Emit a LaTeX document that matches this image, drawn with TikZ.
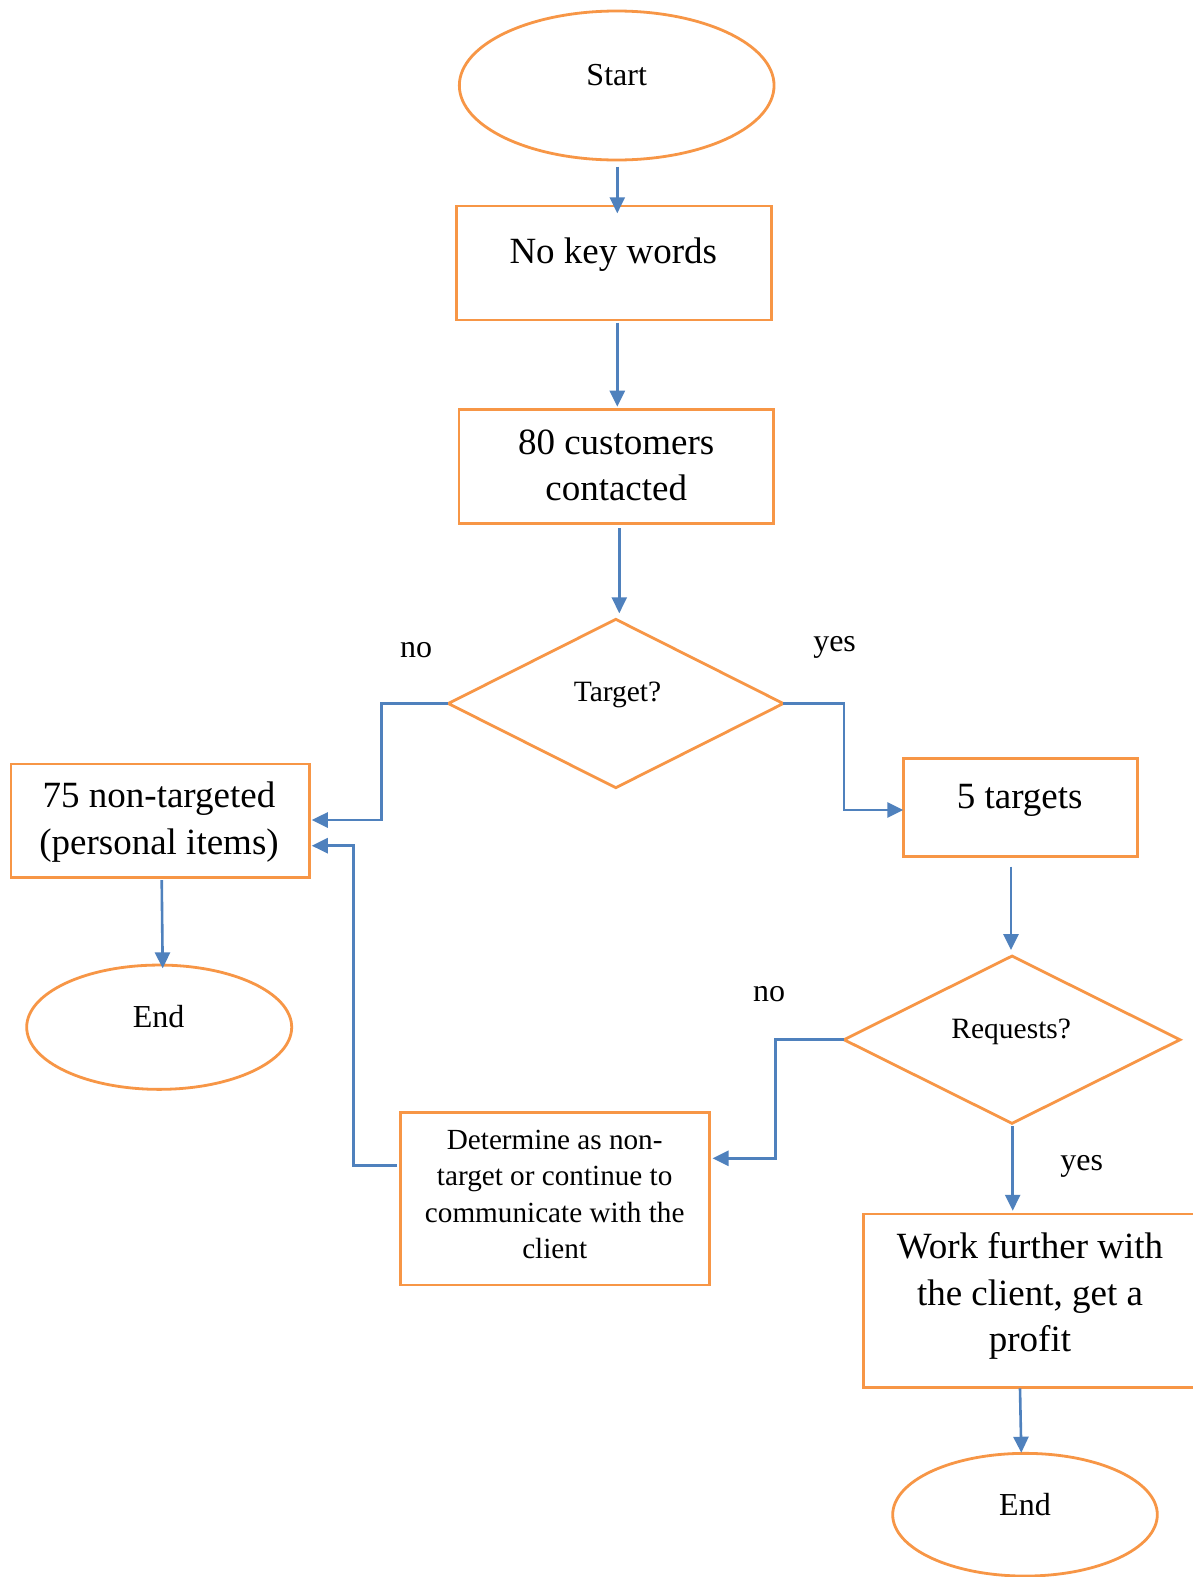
\documentclass[tikz,border=0pt]{standalone}
\usepackage{fontspec}
\setmainfont{Liberation Serif}
\usetikzlibrary{shapes.geometric,arrows.meta,calc}
\definecolor{ofOrange}{HTML}{F79646}
\definecolor{ofBlue}{HTML}{4F81BD}
\begin{document}
\begin{tikzpicture}[x=1pt,y=-1pt,
  shapeline/.style={draw=ofOrange, line width=2.8pt, inner sep=0pt, outer sep=0pt},
  procbox/.style={shapeline, rectangle},
  termov/.style={shapeline, ellipse},
  decide/.style={shapeline, diamond},
  bigtxt/.style={font=\fontsize{37}{46.5}\selectfont, align=center, anchor=base, inner sep=0pt},
  smalltxt/.style={font=\fontsize{29.2}{36.2}\selectfont, align=center, anchor=base, inner sep=0pt},
  termtxt/.style={font=\fontsize{32}{38}\selectfont, anchor=base, inner sep=0pt},
  asktxt/.style={font=\fontsize{29.5}{36}\selectfont, anchor=base, inner sep=0pt},
  anstxt/.style={font=\fontsize{32}{38}\selectfont, anchor=base, inner sep=0pt},
  flow/.style={draw=ofBlue, line width=2.6pt, -{Triangle[length=16pt,width=15pt]}},
]
\useasboundingbox (0,0) rectangle (1192,1577);
\fill[white] (0,0) rectangle (1192,1577);

% shapes (multi-line texts are placed by the baseline of their last line)
\node[termov, minimum width=314.7pt, minimum height=149pt] (st) at (616.7,85.5) {};
\node[termtxt] (stT) at (st.center) {Start};

\node[procbox, minimum width=315pt, minimum height=114pt] (nkw) at (614.2,263) {};
\node[bigtxt] (nkwT) at ($(nkw.center)+(-0.9,0.3)$) {No key words};

\node[procbox, minimum width=314.3pt, minimum height=114pt] (cc) at (616.2,466.3) {};
\node[bigtxt] (ccT) at ($(cc.center)+(0,34.4)$) {80 customers\\contacted};

\node[decide, minimum width=335pt, minimum height=168.4pt] (tg) at (615.8,703.5) {};
\node[asktxt] (tgT) at ($(tg.center)+(1.7,-1.8)$) {Target?};

\node[procbox, minimum width=234pt, minimum height=98.4pt] (tt) at (1020.3,807.5) {};
\node[bigtxt] (ttT) at ($(tt.center)+(-0.6,0.8)$) {5 targets};

\node[procbox, minimum width=298.3pt, minimum height=113.7pt] (nt) at (160.2,820.9) {};
\node[bigtxt] (ntT) at ($(nt.center)+(-1.2,33.2)$) {75 non-targeted\\(personal items)};

\node[termov, minimum width=265pt, minimum height=124.3pt] (en1) at (159.2,1027.2) {};
\node[termtxt] (en1T) at ($(en1.center)+(-0.5,0.1)$) {End};

\node[decide, minimum width=336pt, minimum height=167.3pt] (rq) at (1012,1039.7) {};
\node[asktxt] (rqT) at ($(rq.center)+(-0.8,-1.4)$) {Requests?};

\node[procbox, minimum width=308.6pt, minimum height=172.3pt] (dt) at (555,1198.9) {};
\node[smalltxt] (dtT) at ($(dt.center)+(-0.3,59.4)$) {Determine as non-\\target or continue to\\communicate with the\\client};

\node[procbox, minimum width=333.4pt, minimum height=173.3pt] (wf) at (1030,1300.7) {};
\node[bigtxt] (wfT) at ($(wf.center)+(0,51)$) {Work further with\\the client, get a\\profit};

\node[termov, minimum width=264.6pt, minimum height=122.7pt] (en2) at (1025,1514.7) {};
\node[termtxt] (en2T) at ($(en2.center)+(0,0.3)$) {End};

% branch labels
\node[anstxt] (no1) at (416,657.3) {no};
\node[anstxt] (yes1) at (834.6,651.7) {yes};
\node[anstxt] (no2) at (769.2,1001.7) {no};
\node[anstxt] (yes2) at (1081.7,1170) {yes};

% connectors
\draw[flow] ($(st.south)+(0.6,6.7)$) -- ($(nkw.north)+(3.1,7.3)$);
\draw[flow] ($(nkw.south)+(3.1,2.7)$) -- ($(cc.north)+(1.1,-2.6)$);
\draw[flow] ($(cc.south)+(3.1,5)$) -- ($(tg.north)+(3.5,-6)$);
\draw[flow, shorten >=2.4pt] (tg.west) -- ++(-66.8,0) |- ([yshift=0.9pt]nt.east);
\draw[flow] (tg.east) -- ++(60.7,0) |- ([yshift=-2.5pt]tt.west);
\draw[flow] ($(tt.south)+(-9.3,10)$) -- ($(rq.north)+(-1,-6)$);
\draw[flow, shorten >=3.3pt] (rq.west) -- ++(-68.3,0) |- ([yshift=40.6pt]dt.east);
\draw[flow] ($(rq.south)+(0.7,2.7)$) -- ($(wf.north)+(-17.3,-3.3)$);
\draw[flow] ($(wf.south)+(-10,1)$) -- ($(en2.north)+(-3.7,-0.6)$);
\draw[flow] ($(nt.south)+(1.5,2.3)$) -- ($(en1.north)+(3.5,3.3)$);
\draw[flow, shorten >=2.4pt] ($(dt.west)+(-4,-33.2)$) -- ++(-43.4,0) |- ([yshift=-24.8pt]nt.east);
\end{tikzpicture}
\end{document}
